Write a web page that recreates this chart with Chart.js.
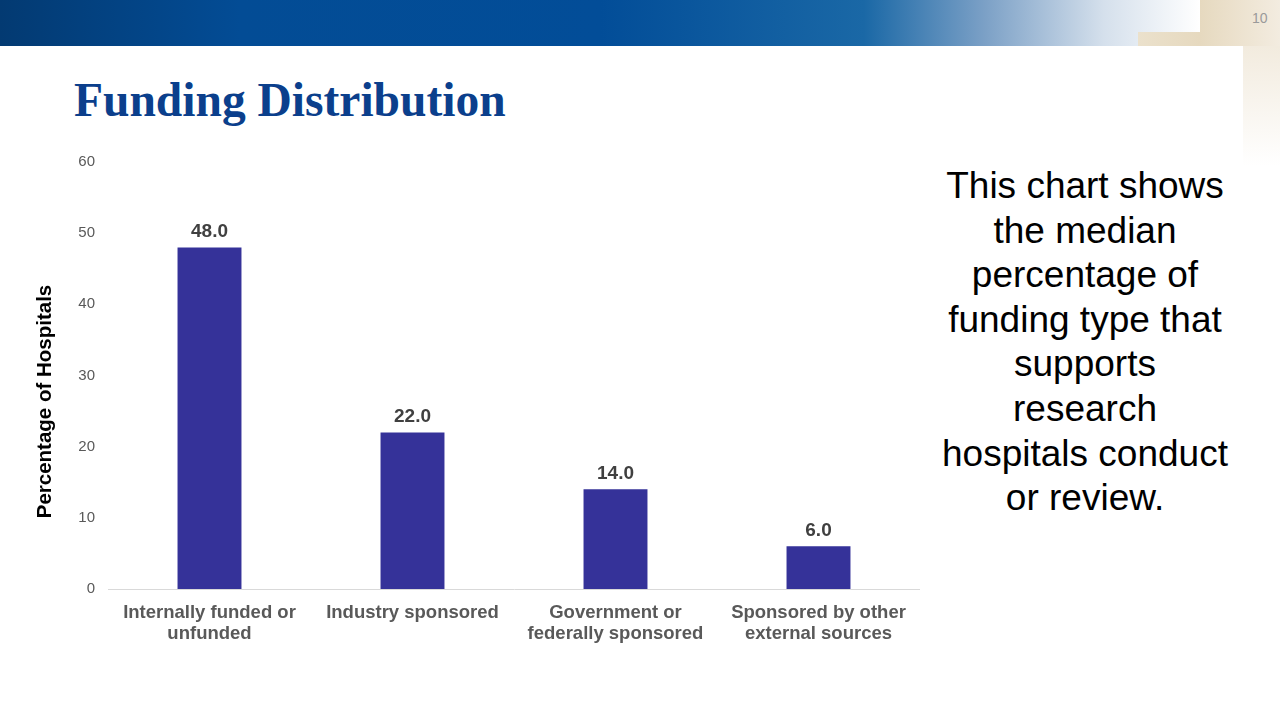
<!DOCTYPE html>
<html>
<head>
<meta charset="utf-8">
<script src="https://cdn.jsdelivr.net/npm/chart.js@4"></script>
<style>
  html, body { margin: 0; padding: 0; background: #fff; }
  body { width: 1280px; height: 720px; position: relative; overflow: hidden; font-family: "Liberation Sans", Arial, sans-serif; }
  .banner { position: absolute; left: 0; top: 0; width: 1200px; height: 46px;
    background: linear-gradient(to right, #033a72 0%, #034c95 20%, #024d98 50%, #1a68a6 72%, #7ba0c6 82%, #d5e0ec 92%, #ffffff 100%); }
  .deco1 { position: absolute; left: 1200px; top: 0; width: 80px; height: 46px;
    background: linear-gradient(to right, #e6d9bf, #f3ece0); }
  .deco2 { position: absolute; left: 1138px; top: 32px; width: 62px; height: 14px;
    background: linear-gradient(to right, #ebe1cc, #e6d9bf); }
  .deco3 { position: absolute; left: 1243px; top: 46px; width: 37px; height: 120px;
    background: linear-gradient(to bottom, #f2ebde, #ffffff); }
  .pagenum { position: absolute; left: 1252px; top: 10px; font-size: 14px; color: #9a9a9a; }
  .title { position: absolute; left: 74px; top: 73px; font-family: "Liberation Serif", "Times New Roman", serif;
    font-weight: bold; font-size: 47.5px; color: #0b3f8c; }
  .note { position: absolute; left: 935px; top: 164px; width: 300px; text-align: center;
    font-size: 37px; line-height: 44.6px; color: #000; white-space: nowrap; }
  .chart-box { position: absolute; left: 20px; top: 148px; width: 900px; height: 502px; }
</style>
</head>
<body>
<div class="banner"></div>
<div class="deco1"></div>
<div class="deco2"></div>
<div class="deco3"></div>
<div class="pagenum">10</div>
<div class="title">Funding Distribution</div>
<div class="note">This chart shows<br>the median<br>percentage of<br>funding type that<br>supports<br>research<br>hospitals conduct<br>or review.</div>
<div class="chart-box"><canvas id="chart"></canvas></div>
<script>
const categories = [
  ['Internally funded or', 'unfunded'],
  ['Industry sponsored'],
  ['Government or', 'federally sponsored'],
  ['Sponsored by other', 'external sources']
];
const medianPercent = [48.0, 22.0, 14.0, 6.0];
const yTicks = [0, 10, 20, 30, 40, 50, 60];
const yTitle = 'Percentage of Hospitals';

const valueLabels = {
  id: 'valueLabels',
  afterDatasetsDraw(chart) {
    const ctx = chart.ctx;
    const meta = chart.getDatasetMeta(0);
    ctx.save();
    ctx.font = 'bold 19px "Liberation Sans", Arial, sans-serif';
    ctx.fillStyle = '#404040';
    ctx.textAlign = 'center';
    ctx.textBaseline = 'middle';
    meta.data.forEach((bar, i) => {
      ctx.fillText(medianPercent[i].toFixed(1), bar.x, bar.y - 16);
    });
    // y axis title, sits a bit below the plot middle
    const area = chart.chartArea;
    ctx.font = 'bold 20.5px "Liberation Sans", Arial, sans-serif';
    ctx.fillStyle = '#000';
    ctx.translate(25, (area.top + area.bottom) / 2 + 26);
    ctx.rotate(-Math.PI / 2);
    ctx.fillText(yTitle, 0, 0);
    ctx.restore();
  }
};

new Chart(document.getElementById('chart'), {
  type: 'bar',
  data: {
    labels: categories,
    datasets: [{
      label: 'Median percentage',
      data: medianPercent,
      backgroundColor: '#353299',
      borderWidth: 0,
      barPercentage: 0.63,
      categoryPercentage: 0.5
    }]
  },
  options: {
    responsive: true,
    maintainAspectRatio: false,
    animation: false,
    layout: { padding: { top: 10, right: 0, bottom: 0, left: 0 } },
    plugins: {
      legend: { display: false },
      tooltip: { enabled: false }
    },
    scales: {
      x: {
        grid: { display: false },
        border: { display: true, color: '#d9d9d9', width: 1 },
        ticks: {
          color: '#595959',
          padding: 5,
          font: { family: '"Liberation Sans", Arial, sans-serif', size: 18.5, weight: 'bold', lineHeight: 1.15 }
        },
        afterFit: s => { s.height = 61; }
      },
      y: {
        min: 0,
        max: 60,
        afterBuildTicks: s => { s.ticks = yTicks.map(v => ({ value: v })); },
        grid: { display: false },
        border: { display: false },
        ticks: {
          color: '#595959',
          padding: 5,
          font: { family: '"Liberation Sans", Arial, sans-serif', size: 15 }
        },
        afterFit: s => { s.width = 88; }
      }
    }
  },
  plugins: [valueLabels]
});
</script>
</body>
</html>
